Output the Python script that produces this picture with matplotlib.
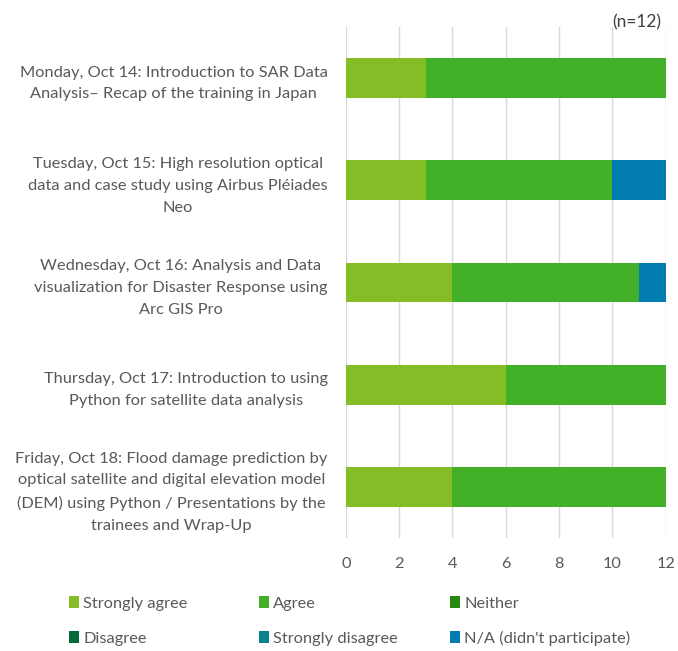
import matplotlib
matplotlib.use("Agg")
import matplotlib.pyplot as plt
import numpy as np

plt.rcParams['font.family'] = ['Lato', 'DejaVu Sans']

sessions = [
    "Monday, Oct 14: Introduction to SAR Data\nAnalysis\u2013 Recap of the training in Japan",
    "Tuesday, Oct 15: High resolution optical\ndata and case study using Airbus Pléiades\nNeo",
    "Wednesday, Oct 16: Analysis and Data\nvisualization for Disaster Response using\nArc GIS Pro",
    "Thursday, Oct 17: Introduction to using\nPython for satellite data analysis",
    "Friday, Oct 18: Flood damage prediction by\noptical satellite and digital elevation model\n(DEM) using Python / Presentations by the\ntrainees and Wrap-Up",
]
categories = ["Strongly agree", "Agree", "Neither", "Disagree",
              "Strongly disagree", "N/A (didn't participate)"]
strongly_agree = [3, 3, 4, 6, 4]
agree = [9, 7, 7, 6, 8]
neither = [0, 0, 0, 0, 0]
disagree = [0, 0, 0, 0, 0]
strongly_disagree = [0, 0, 0, 0, 0]
not_applicable = [0, 2, 1, 0, 0]
colors = ["#86BC25", "#43B02A", "#26890D", "#046A38", "#0D8390", "#007CB0"]
x_ticks = [0, 2, 4, 6, 8, 10, 12]

series = [strongly_agree, agree, neither, disagree, strongly_disagree, not_applicable]
TEXT = '#595959'
FS = 11.8

fig = plt.figure(figsize=(6.78, 6.51), dpi=100)
ax = fig.add_axes([0.510, 0.1736, 0.472, 0.785])

y = np.arange(len(sessions))
left = np.zeros(len(sessions))
handles = []
for vals, col, name in zip(series, colors, categories):
    vals = np.array(vals, dtype=float)
    h = ax.barh(y, vals, left=left, height=0.39, color=col, label=name, zorder=3)
    handles.append(h)
    left += vals

ax.set_ylim(len(sessions) - 0.5, -0.5)
ax.set_xlim(0, 12)
ax.set_xticks(x_ticks)
ax.set_yticks(y)
ax.set_yticklabels(sessions, multialignment='center', fontsize=FS, color=TEXT,
                   linespacing=1.72)
ax.tick_params(axis='x', labelsize=FS, colors=TEXT, length=0, pad=14)
ax.tick_params(axis='y', length=0, pad=13)
for s in ax.spines.values():
    s.set_visible(False)
ax.grid(axis='x', color='#D9D9D9', linewidth=1, zorder=0)

fig.text(0.976, 0.978, "(n=12)", ha='right', va='top', fontsize=12.5, color='#404040')

# Legend: three columns, filled row by row
col_x = [69 / 678, 259 / 678, 450 / 678]
for i, cx in enumerate(col_x):
    hs = [handles[i], handles[i + 3]]
    ls = [categories[i], categories[i + 3]]
    fig.legend(handles=hs, labels=ls, ncol=1, loc='center left',
               bbox_to_anchor=(cx, 1 - 621 / 651), frameon=False, fontsize=FS,
               labelcolor=TEXT, handlelength=0.62, handleheight=0.75,
               handletextpad=0.25, labelspacing=1.2, borderpad=0,
               borderaxespad=0)

fig.savefig("out.png", dpi=100)
